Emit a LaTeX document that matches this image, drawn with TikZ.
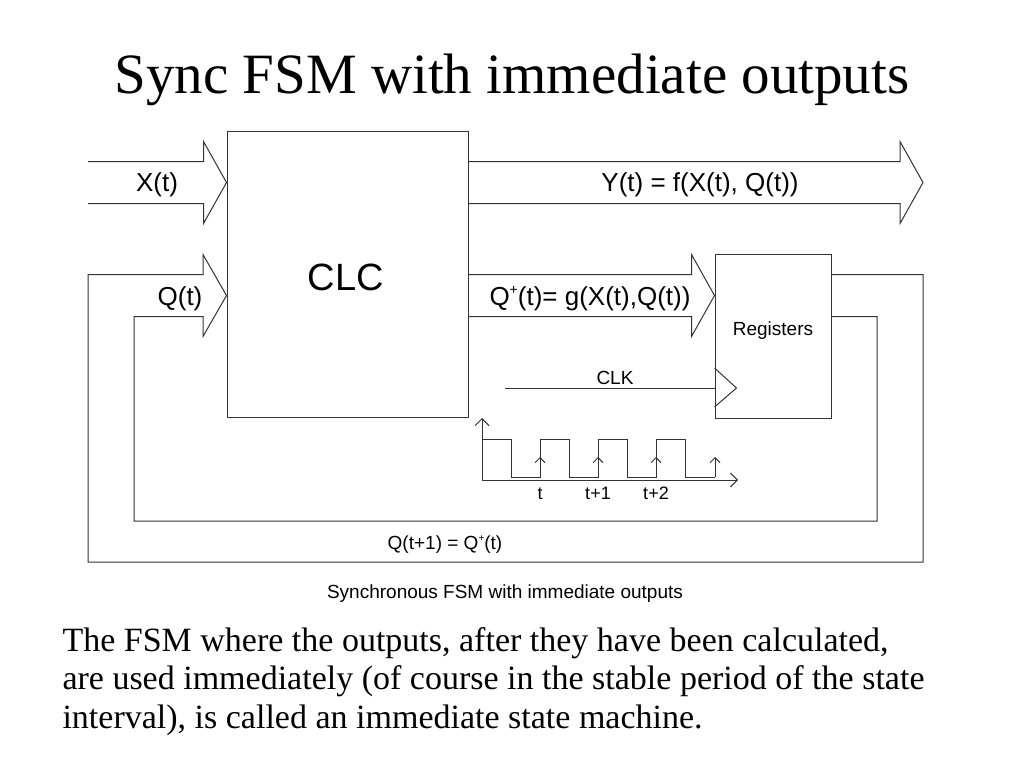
\documentclass[tikz,border=0pt]{standalone}
\usepackage{fontspec}
\setmainfont{Liberation Serif}
\setsansfont{Liberation Sans}
\usepackage{tikz}
\usetikzlibrary{positioning, arrows.meta, calc}

% wide bus arrow from #1 to the tip #2 (same height)
\newcommand{\busarrow}[2]{%
  \draw ($(#1)+(0,-21)$) -- ($(#2)+(-23,-21)$) -- ($(#2)+(-23,-41)$) -- (#2)
     -- ($(#2)+(-23,41)$) -- ($(#2)+(-23,21)$) -- ($(#1)+(0,21)$);}
% small raised plus
\newcommand{\qplus}[1]{\raisebox{0.42em}{\fontsize{#1}{#1}\selectfont +}}

\begin{document}
\begin{tikzpicture}[x=1pt, y=-1pt, line width=1pt, color=black!80]
        \tikzset{every node/.append style={text=black},
                 lbl/.style={font=\sffamily\fontsize{26}{30}\selectfont, anchor=base},
                 small/.style={font=\sffamily\fontsize{19}{22}\selectfont, anchor=base},
                 block/.style={draw, rectangle, inner sep=0pt},
                 tick/.style={-{Straight Barb[length=5pt,width=10pt]}},
                 axis/.style={-{Straight Barb[length=7pt,width=14pt]}}}
        \useasboundingbox (0,0) rectangle (1024,768);

        \node[font=\fontsize{57}{64}\selectfont, anchor=base] (title) at (512,93) {Sync FSM with immediate outputs};

        \node[block, minimum width=241, minimum height=286] (clc) at (347.5,274) {};
        \node[font=\sffamily\fontsize{38}{44}\selectfont, anchor=base] (clclbl) at (346,290) {CLC};
        \node[block, minimum width=116, minimum height=164] (reg) at (773,336) {};
        \node[small] (reglbl) at (773,335) {Registers};

        % inputs and outputs
        \coordinate (xin) at (88,182.5);
        \coordinate (xtip) at (clc.west |- xin);
        \coordinate (yout) at (clc.east |- xin);
        \coordinate (ytip) at (923,182.5);
        \busarrow{xin}{xtip}
        \busarrow{yout}{ytip}
        \node[lbl] (xlbl) at (157,191.5) {X(t)};
        \node[lbl] (ylbl) at (700,191.5) {Y(t) = f(X(t), Q(t))};

        % next state
        \coordinate (qp) at (clc.east |- 0,295.5);
        \coordinate (qptip) at (reg.west |- qp);
        \coordinate (qtip) at (clc.west |- qp);
        \busarrow{qp}{qptip}
        \node[lbl] (qplbl) at (590,305) {Q\qplus{14}(t)= g(X(t),Q(t))};

        % feedback
        \draw ($(reg.east |- qp)+(0,-21)$) -| (923,562) -| (88,274.5) -- (203,274.5) -- (203,254.5) -- (qtip);
        \draw ($(reg.east |- qp)+(0,21)$) -| (877,521) -| (134,316.5) -- (203,316.5) -- (203,336.5) -- (qtip);
        \node[lbl] (qlbl) at (180,305) {Q(t)};
        \node[small] (qnext) at (445,549) {Q(t+1) = Q\qplus{10}(t)};

        % clock
        \coordinate (clk) at (505,388);
        \draw (clk) -- (reg.west |- clk);
        \draw ($(reg.west |- clk)+(0,-20)$) -- ($(reg.west |- clk)+(22,0)$) -- ($(reg.west |- clk)+(0,19)$);
        \node[small] (clklbl) at (615,384) {CLK};

        \coordinate (o) at (482,480);
        \draw[axis] (o) -- (482,418);
        \draw[axis] (o) -- (738,480);
        \draw (482,439) \foreach \x in {511,569,627} { -| (\x,477) -| (\x+29,439) } -| (685,477) -- (715,477);
        \foreach \x in {540,598,656,715}
            \draw[tick] (\x,477) -- (\x,457);
        \foreach \x/\t in {540/t, 598/t+1, 656/t+2}
            \node[font=\sffamily\fontsize{18}{21}\selectfont, anchor=base] at (\x,499) {\t};

        \node[small] (caption) at (505,598) {Synchronous FSM with immediate outputs};

        % base of a multi-line node is its last line
        \node[font=\fontsize{34}{38.5}\selectfont, anchor=base west, align=left, inner sep=0pt] (text) at (62,728)
            {The FSM where the outputs, after they have been calculated,\\
             are used immediately (of course in the stable period of the state\\
             interval), is called an immediate state machine.};
\end{tikzpicture}
\end{document}
